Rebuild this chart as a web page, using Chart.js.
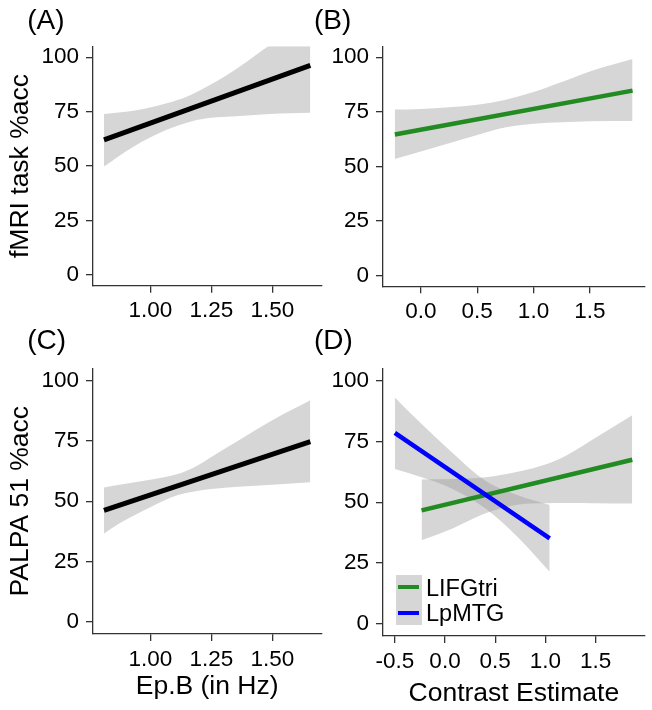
<!DOCTYPE html>
<html>
<head>
<meta charset="utf-8">
<script src="https://cdn.jsdelivr.net/npm/chart.js@4.4.1/dist/chart.umd.min.js"></script>
<style>
  html, body { margin: 0; padding: 0; background: #ffffff; }
  #wrap { position: relative; width: 652px; height: 710px; overflow: hidden;
          font-family: "Liberation Sans", Arial, sans-serif; background: #ffffff; }
  #wrap canvas { position: absolute; left: 0; top: 0; }
  .plabel { position: absolute; font-size: 28px; line-height: 28px; color: #000; white-space: nowrap; }
  .legbox { position: absolute; background: #d6d6d6; }
  .legkey { position: absolute; height: 4px; }
  .legtxt { position: absolute; font-size: 23.5px; line-height: 23.5px; color: #000; white-space: nowrap; }
</style>
</head>
<body>
<div id="wrap">
  <canvas id="cA" width="652" height="710"></canvas>
  <canvas id="cB" width="652" height="710"></canvas>
  <canvas id="cC" width="652" height="710"></canvas>
  <canvas id="cD" width="652" height="710"></canvas>
</div>
<script>
// ---------------- data ----------------
const yTickValues = [0, 25, 50, 75, 100];
const yTickLabels = ["0", "25", "50", "75", "100"];
const epbTickValues = [1.00, 1.25, 1.50];
const epbTickLabels = ["1.00", "1.25", "1.50"];
const conBTickValues = [0.0, 0.5, 1.0, 1.5];
const conBTickLabels = ["0.0", "0.5", "1.0", "1.5"];
const conDTickValues = [-0.5, 0.0, 0.5, 1.0, 1.5];
const conDTickLabels = ["-0.5", "0.0", "0.5", "1.0", "1.5"];

const panelLabels = ["(A)", "(B)", "(C)", "(D)"];
const yTitles = ["fMRI task %acc", "PALPA 51 %acc"];
const xTitles = ["Ep.B (in Hz)", "Contrast Estimate"];
const seriesNames = ["LIFGtri", "LpMTG"];

// Panel A : Ep.B vs fMRI task %acc
const aFitX = [0.81, 1.656];
const aFitY = [62.0, 96.2];
const aBandX = [0.81, 0.931, 1.067, 1.149, 1.231, 1.313, 1.395, 1.49, 1.57, 1.656];
const aBandUpper = [73.9, 75.4, 78.8, 81.8, 86.4, 91.7, 97.9, 105.5, 111.0, 117.0];
const aBandLower = [49.8, 58.9, 66.6, 69.9, 71.9, 72.6, 73.2, 73.9, 74.2, 74.5];

// Panel B : LIFGtri contrast vs fMRI task %acc
const bFitX = [-0.231, 1.879];
const bFitY = [64.6, 84.7];
const bBandX = [-0.231, 0.0, 0.5, 0.745, 1.0, 1.25, 1.5, 1.879];
const bBandUpper = [76.0, 76.3, 78.2, 80.4, 84.0, 88.6, 93.5, 99.2];
const bBandLower = [53.3, 56.8, 64.4, 67.8, 69.5, 70.2, 70.7, 70.8];

// Panel C : Ep.B vs PALPA 51 %acc
const cFitX = [0.81, 1.656];
const cFitY = [46.2, 74.6];
const cBandX = [0.81, 0.874, 1.0, 1.113, 1.18, 1.25, 1.36, 1.5, 1.656];
const cBandUpper = [55.7, 56.8, 58.9, 61.2, 64.0, 68.3, 75.0, 83.5, 91.8];
const cBandLower = [36.6, 40.8, 47.5, 52.5, 54.0, 55.0, 56.0, 56.8, 57.8];

// Panel D : contrasts vs PALPA 51 %acc (two regions)
const dGreenFitX = [-0.234, 1.866];
const dGreenFitY = [46.6, 67.4];
const dGreenBandX = [-0.234, 0.07, 0.403, 0.736, 1.0, 1.2, 1.5, 1.866];
const dGreenBandUpper = [59.3, 59.5, 60.2, 62.6, 65.5, 69.0, 76.5, 85.7];
const dGreenBandLower = [34.3, 39.1, 45.4, 49.0, 49.5, 49.6, 49.5, 49.4];

const dBlueFitX = [-0.5, 1.043];
const dBlueFitY = [78.5, 35.1];
const dBlueBandX = [-0.5, -0.264, 0.07, 0.403, 0.736, 1.043];
const dBlueBandUpper = [93.0, 83.3, 70.4, 58.8, 52.7, 48.8];
const dBlueBandLower = [63.6, 60.6, 55.5, 47.4, 35.2, 21.4];

// ---------------- styling ----------------
const FONT = '"Liberation Sans", Arial, sans-serif';
const BAND_FILL = 'rgba(153,153,153,0.4)';
const COL_BLACK = '#000000';
const COL_GREEN = '#228B22';
const COL_BLUE = '#0000FF';
const AXIS_COL = '#333333';
const TEXT_COL = '#000000';

function pts(xs, ys) { return xs.map((x, i) => ({ x: x, y: ys[i] })); }

function bandSets(xs, up, lo) {
  return [
    { data: pts(xs, up), fill: '+1', backgroundColor: BAND_FILL, borderColor: 'rgba(0,0,0,0)',
      borderWidth: 0, pointRadius: 0, pointHitRadius: 0, cubicInterpolationMode: 'monotone', order: 5 },
    { data: pts(xs, lo), fill: false, borderColor: 'rgba(0,0,0,0)',
      borderWidth: 0, pointRadius: 0, pointHitRadius: 0, cubicInterpolationMode: 'monotone', order: 5 }
  ];
}
function fitSet(xs, ys, color, width, order, label) {
  return { label: label, data: pts(xs, ys), fill: false, borderColor: color, borderWidth: width,
           borderCapStyle: 'butt', pointRadius: 0, pointHitRadius: 0, tension: 0, order: order };
}

function labelFor(vals, labels) {
  return function (v) {
    const i = vals.findIndex(t => Math.abs(t - v) < 1e-9);
    return i >= 0 ? labels[i] : '';
  };
}

function makeChart(id, p) {
  return new Chart(document.getElementById(id), {
    type: 'line',
    data: { datasets: p.datasets },
    options: {
      responsive: false,
      animation: false,
      events: [],
      layout: { padding: p.padding },
      plugins: { legend: { display: false }, tooltip: { enabled: false } },
      scales: {
        x: {
          type: 'linear', min: p.xMin, max: p.xMax,
          afterBuildTicks: s => { s.ticks = p.xTicks.map(v => ({ value: v })); },
          afterFit: s => { s.height = p.xH; },
          ticks: { autoSkip: false, maxRotation: 0, padding: 5, color: TEXT_COL,
                   font: { family: FONT, size: 22.5 }, callback: labelFor(p.xTicks, p.xLabels) },
          grid: { display: true, drawOnChartArea: false, drawTicks: true, tickLength: 7,
                  color: AXIS_COL, lineWidth: 1.3 },
          border: { display: true, color: AXIS_COL, width: 1.3 },
          title: { display: !!p.xTitle, text: p.xTitle || '', color: TEXT_COL, padding: 0,
                   font: { family: FONT, size: 26.5 } }
        },
        y: {
          type: 'linear', min: -5, max: 105,
          afterBuildTicks: s => { s.ticks = yTickValues.map(v => ({ value: v })); },
          afterFit: s => { s.width = p.yW; },
          ticks: { autoSkip: false, padding: 7, color: TEXT_COL,
                   font: { family: FONT, size: 22.5 }, callback: labelFor(yTickValues, yTickLabels) },
          grid: { display: true, drawOnChartArea: false, drawTicks: true, tickLength: 7,
                  color: AXIS_COL, lineWidth: 1.3 },
          border: { display: true, color: AXIS_COL, width: 1.3 },
          title: { display: !!p.yTitle, text: p.yTitle || '', color: TEXT_COL, padding: 0,
                   font: { family: FONT, size: 26.5 } }
        }
      }
    }
  });
}

makeChart('cA', {
  datasets: [fitSet(aFitX, aFitY, COL_BLACK, 5, 1)].concat(bandSets(aBandX, aBandUpper, aBandLower)),
  xMin: 0.765, xMax: 1.701, xTicks: epbTickValues, xLabels: epbTickLabels,
  yTitle: yTitles[0], xTitle: null,
  padding: { left: 5, top: 46.3, right: 330.7, bottom: 384.3 }, yW: 88, xH: 40
});

makeChart('cB', {
  datasets: [fitSet(bFitX, bFitY, COL_GREEN, 4.5, 1)].concat(bandSets(bBandX, bBandUpper, bBandLower)),
  xMin: -0.336, xMax: 1.987, xTicks: conBTickValues, xLabels: conBTickLabels,
  yTitle: null, xTitle: null,
  padding: { left: 323, top: 46.3, right: 7.3, bottom: 383.7 }, yW: 60, xH: 40
});

makeChart('cC', {
  datasets: [fitSet(cFitX, cFitY, COL_BLACK, 5, 1)].concat(bandSets(cBandX, cBandUpper, cBandLower)),
  xMin: 0.765, xMax: 1.701, xTicks: epbTickValues, xLabels: epbTickLabels,
  yTitle: yTitles[1], xTitle: xTitles[0],
  padding: { left: 5, top: 368.3, right: 330.7, bottom: 7 }, yW: 88, xH: 69
});

makeChart('cD', {
  datasets: bandSets(dGreenBandX, dGreenBandUpper, dGreenBandLower)
    .concat(bandSets(dBlueBandX, dBlueBandUpper, dBlueBandLower))
    .concat([fitSet(dGreenFitX, dGreenFitY, COL_GREEN, 4.5, 2, seriesNames[0]),
             fitSet(dBlueFitX, dBlueFitY, COL_BLUE, 4.5, 1, seriesNames[1])]),
  xMin: -0.618, xMax: 1.99, xTicks: conDTickValues, xLabels: conDTickLabels,
  yTitle: null, xTitle: xTitles[1],
  padding: { left: 323, top: 368.3, right: 7.3, bottom: 0 }, yW: 60, xH: 74
});

// ---------------- panel labels & legend (HTML text) ----------------
const wrap = document.getElementById('wrap');
const labelPos = [[27.3, 6.3], [314, 6.3], [27.3, 326], [314, 326]];
panelLabels.forEach((t, i) => {
  const d = document.createElement('div');
  d.className = 'plabel';
  d.textContent = t;
  d.style.left = labelPos[i][0] + 'px';
  d.style.top = labelPos[i][1] + 'px';
  wrap.appendChild(d);
});

const box = document.createElement('div');
box.className = 'legbox';
Object.assign(box.style, { left: '396px', top: '575px', width: '26px', height: '50px' });
wrap.appendChild(box);

const legColors = [COL_GREEN, COL_BLUE];
const keyTops = [584.5, 610.5];
const txtTops = [576.6, 601.6];
seriesNames.forEach((name, i) => {
  const k = document.createElement('div');
  k.className = 'legkey';
  Object.assign(k.style, { left: '398px', top: keyTops[i] + 'px', width: '21px', background: legColors[i] });
  wrap.appendChild(k);
  const t = document.createElement('div');
  t.className = 'legtxt';
  t.textContent = name;
  Object.assign(t.style, { left: '426px', top: txtTops[i] + 'px' });
  wrap.appendChild(t);
});
</script>
</body>
</html>
